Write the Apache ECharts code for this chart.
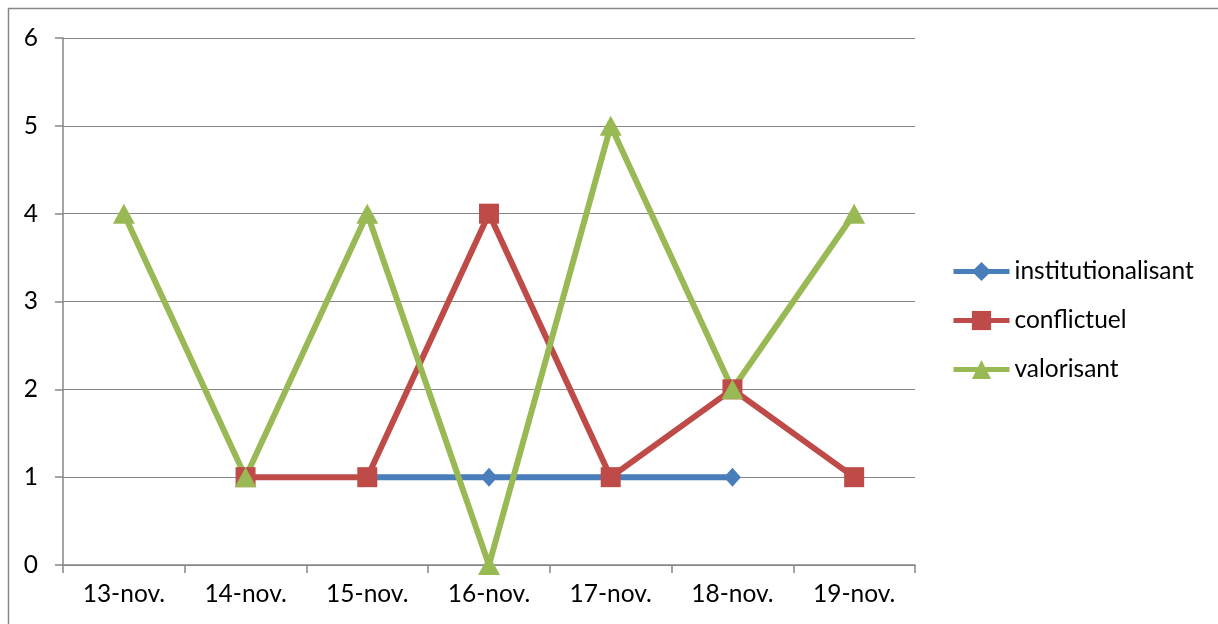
<!DOCTYPE html>
<html><head><meta charset="utf-8">
<script src="https://cdn.jsdelivr.net/npm/echarts@6/dist/echarts.min.js"></script>
<style>html,body{margin:0;padding:0;background:#fff}#c{width:1218px;height:624px}</style>
</head><body><div id="c"></div>
<script>
const categories = ['13-nov.','14-nov.','15-nov.','16-nov.','17-nov.','18-nov.','19-nov.'];
const institutionalisant = [null, null, 1, 1, 1, 1, null];
const conflictuel = [null, 1, 1, 4, 1, 2, 1];
const valorisant = [4, 1, 4, 0, 5, 2, 4];
const yTicks = [0, 6, 1]; // min, max, interval

const FONT = 'Lato';
const FS = 24.5;
const chart = echarts.init(document.getElementById('c'));
chart.setOption({
  animation: false,
  textStyle: {fontFamily: FONT},
  graphic: [{type:'rect', shape:{x:8.5,y:8.5,width:1400,height:800}, style:{fill:'none', stroke:'#868686', lineWidth:1.5}, z:-10}],
  grid: {left: 63, right: 303, top: 38, bottom: 59},
  legend: {
    orient: 'vertical', left: 946, top: 254, itemGap: 24, itemWidth: 56, itemHeight: 24,
    lineStyle: {width: 5},
    textStyle: {fontFamily: FONT, fontSize: FS, color: '#000'},
    data: ['institutionalisant','conflictuel','valorisant']
  },
  xAxis: {
    type: 'category', data: categories, boundaryGap: true,
    axisLine: {lineStyle: {color: '#868686', width: 1.5}},
    axisTick: {show: true, length: 8, lineStyle: {color: '#868686', width: 1.5}},
    axisLabel: {color: '#000', fontSize: FS, fontFamily: FONT, margin: 17}
  },
  yAxis: {
    type: 'value', min: yTicks[0], max: yTicks[1], interval: yTicks[2],
    axisLine: {show: true, lineStyle: {color: '#868686', width: 1.5}},
    axisTick: {show: true, length: 8, lineStyle: {color: '#868686', width: 1.5}},
    splitLine: {lineStyle: {color: '#868686', width: 1.2}},
    axisLabel: {color: '#000', fontSize: FS, fontFamily: FONT, margin: 25}
  },
  series: [
    {name:'institutionalisant', type:'line', data: institutionalisant, symbol:'diamond', symbolSize:[17,19],
     lineStyle:{width:6, color:'#4A7EBB'}, itemStyle:{color:'#4A7EBB'}},
    {name:'conflictuel', type:'line', data: conflictuel, symbol:'rect', symbolSize:20,
     lineStyle:{width:6, color:'#BE4B48'}, itemStyle:{color:'#BE4B48'}},
    {name:'valorisant', type:'line', data: valorisant, symbol:'triangle', symbolSize:[22,20],
     lineStyle:{width:6, color:'#98B954'}, itemStyle:{color:'#98B954'}}
  ]
});
</script></body></html>
